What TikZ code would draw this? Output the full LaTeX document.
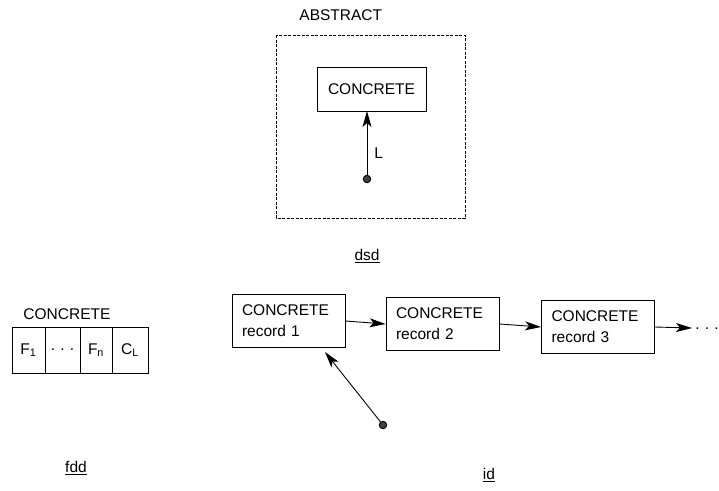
\documentclass[tikz,border=0pt]{standalone}
\usepackage{fontspec}
\setmainfont{Liberation Sans}
\usetikzlibrary{arrows.meta}
\begin{document}
\begin{tikzpicture}[x=1pt,y=-1pt,
  font=\fontsize{15.5}{21}\selectfont,
  line width=0.9pt,
  box/.style={draw, inner sep=0pt},
  recbox/.style={draw, minimum width=113pt, minimum height=53pt, inner xsep=10pt,
    align=left, text width=93pt},
  cell/.style={draw, minimum width=34pt, minimum height=46pt, inner sep=0pt},
  tip/.style={-{Stealth[length=16pt,width=9pt,inset=4pt]}},
  dot/.style={circle, fill=black!75, draw=black, inner sep=0pt, minimum size=7.5pt},
  lbl/.style={inner sep=1pt}]
\useasboundingbox (0,0) rectangle (719,490);

% dsd: abstract object containing a pointer to a concrete record
\node[lbl, anchor=west] (abs) at (298,15) {ABSTRACT};
\draw[dash pattern=on 3pt off 1.5pt, line width=0.6pt] (276,35) rectangle (465,218);
\node[box, minimum width=109pt, minimum height=44pt] (conc) at (371.5,89) {CONCRETE};
\node[dot] (p1) at (367,179) {};
\draw[tip] (p1) -- (367,111) coordinate (c1);
\node[lbl, anchor=west] (lL) at (373,153) {L};
\node[lbl] (dsd) at (367,256) {\underline{dsd}};

% fdd: fields followed by the link field
\node[lbl, anchor=west] (fconc) at (22,314) {CONCRETE};
\node[cell, minimum width=33pt] (f1) at (28.5,350) {F\textsubscript{1}};
\node[cell, minimum width=35pt] (fd) at (62.5,350) {.\,\,.\,\,.};
\node[cell, minimum width=32pt] (fn) at (96,350) {F\textsubscript{n}};
\node[cell, minimum width=36pt] (cl) at (130,350) {C\textsubscript{L}};
\node[lbl] (fdd) at (76,468) {\underline{fdd}};

% id: linked list of concrete records
\node[recbox] (r1) at (288.5,321) {CONCRETE\\record 1};
\node[recbox] (r2) at (442.5,324) {CONCRETE\\record 2};
\node[recbox] (r3) at (598,327) {CONCRETE\\record 3};
\draw[tip] (r1.east) -- (r2.west);
\draw[tip] (r2.east) -- (r3.west);
\coordinate (more) at (692,328);
\draw[tip] (r3.east) -- (more);
\node[lbl, anchor=east, inner sep=0pt] (dots) at (719,329) {.\,\,.\,\,.};
\node[dot] (p2) at (383,425) {};
\coordinate (r1tip) at (325,352);
\draw[tip] (p2) -- (r1tip);
\node[lbl] (id) at (489,475) {\underline{id}};
\end{tikzpicture}
\end{document}
